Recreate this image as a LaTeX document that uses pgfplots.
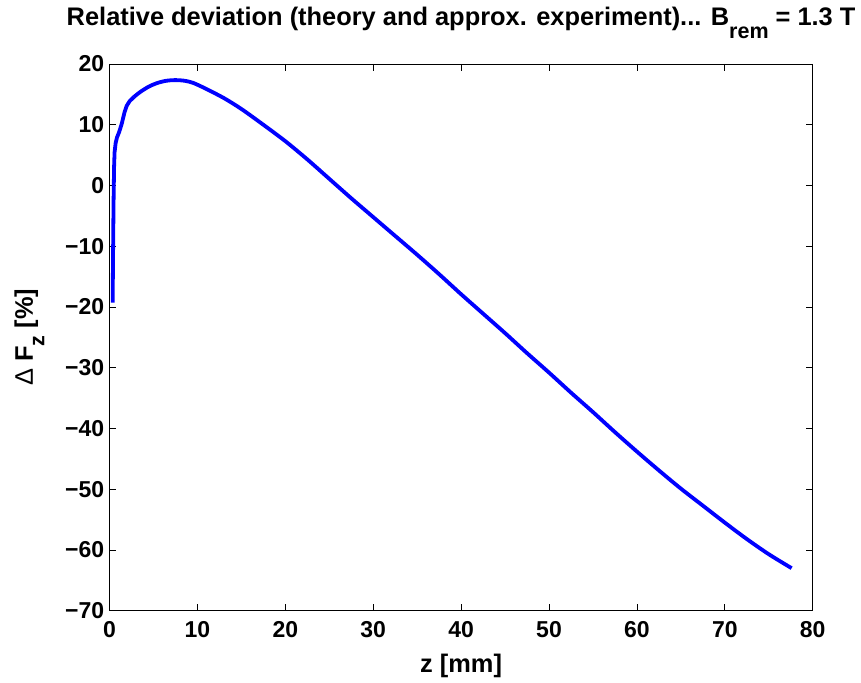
\documentclass[border=0pt]{standalone}
\usepackage{fontspec}
\setmainfont{Liberation Sans}
\newfontfamily\lsreg{Liberation Sans}
\usepackage{pgfplots}
\pgfplotsset{compat=1.18}
\pgfplotstableread{
z dF
0.36 -19.3
0.40 -12.0
0.46 -3.0
0.52 3.0
0.58 5.5
0.70 7.0
0.85 7.9
1.10 8.8
1.40 10.2
1.70 12.0
1.95 13.1
2.30 13.9
2.80 14.6
}\datastart
\pgfplotstableread{
z dF
2.80 14.6
3.50 15.4
4.50 16.3
5.50 16.9
6.50 17.25
7.50 17.35
8.50 17.25
9.50 16.9
11.0 15.9
13.0 14.4
15.0 12.6
17.5 10.0
20.0 7.3
22.5 4.3
25.0 1.1
27.5 -2.1
30.0 -5.2
32.5 -8.3
35.0 -11.4
37.5 -14.6
40.0 -17.9
42.5 -21.1
45.0 -24.3
47.5 -27.6
50.0 -30.8
52.5 -34.1
55.0 -37.3
57.5 -40.6
60.0 -43.8
62.5 -46.9
65.0 -49.9
67.5 -52.7
70.0 -55.5
72.5 -58.2
75.0 -60.7
77.6 -63.0
}\datarest
\begin{document}
\begin{tikzpicture}
\useasboundingbox (-109.5pt,-71.3pt) rectangle (751.5pt,610.7pt);
\begin{axis}[
  scale only axis, width=703.2pt, height=546.7pt,
  anchor=south west, at={(0pt,0pt)},
  xmin=0, xmax=80, ymin=-70, ymax=20,
  xtick={0,10,...,80}, ytick={-70,-60,...,20},
  yticklabels={−70,−60,−50,−40,−30,−20,−10,0,10,20},
  /pgf/number format/assume math mode=true,
  tick label style={font=\fontsize{23}{23}\selectfont\bfseries},
  xticklabel style={yshift=-7.5pt},
  yticklabel style={xshift=-1.8pt},
  tick align=inside, major tick length=7pt,
  axis line style={line width=0.9pt},
  every tick/.style={black, line width=0.7pt},
  title={Relative deviation (theory and approx. experiment)... B\raisebox{-0.52em}{\fontsize{21.5}{21.5}\selectfont rem} = 1.3 T},
  title style={at={([yshift=32.3pt]axis description cs:0.5,1)}, anchor=base, inner sep=0pt, font=\fontsize{25.4}{25.4}\selectfont\bfseries},
  xlabel={z [mm]},
  xlabel style={at={([yshift=-62pt]axis description cs:0.5,0)}, anchor=base, inner sep=0pt, font=\fontsize{25.4}{25.4}\selectfont\bfseries},
  ylabel={{\lsreg\mdseries Δ} F\raisebox{-0.45em}{\fontsize{21.5}{21.5}\selectfont z} [\%]},
  ylabel style={at={([xshift=-76.5pt]axis description cs:0,0.5)}, anchor=base, inner sep=0pt, font=\fontsize{25.4}{25.4}\selectfont\bfseries},
]
\addplot[blue, line width=3.8pt, line join=round] table[x=z, y=dF] {\datastart};
\addplot[blue, line width=3.8pt, line join=round, smooth, tension=0.5] table[x=z, y=dF] {\datarest};
\end{axis}
\end{tikzpicture}
\end{document}
